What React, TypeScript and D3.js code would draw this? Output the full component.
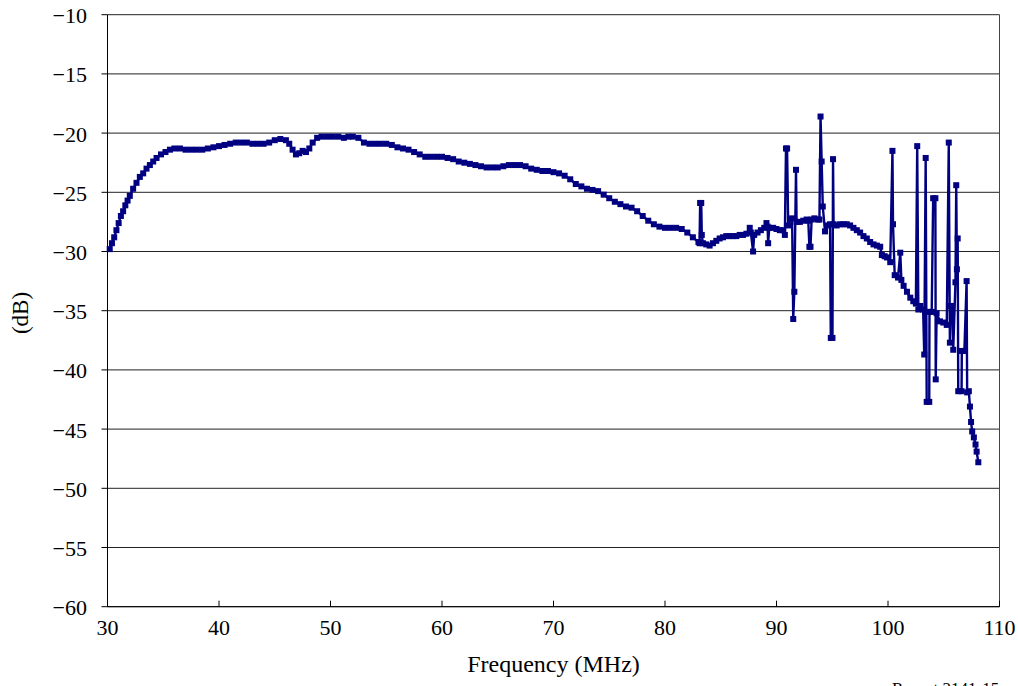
import React from 'react';
import * as d3 from 'd3';

// axis ticks
const X_TICKS = [30, 40, 50, 60, 70, 80, 90, 100, 110];
const Y_TICKS = [-10, -15, -20, -25, -30, -35, -40, -45, -50, -55, -60];

// [frequency MHz, level dB]
const passband: [number, number][] = [
  [30.2, -29.8], [30.4, -29.3], [30.6, -28.8], [30.8, -28.2], [31.0, -27.6],
  [31.2, -27.0], [31.4, -26.6], [31.6, -26.1], [31.8, -25.7], [32.0, -25.3],
  [32.3, -24.7], [32.6, -24.2], [32.9, -23.7], [33.2, -23.4], [33.5, -23.0],
  [33.8, -22.7], [34.1, -22.4], [34.4, -22.1], [34.8, -21.8], [35.2, -21.6],
  [35.6, -21.4], [36.0, -21.3], [36.5, -21.3], [37.0, -21.4], [37.5, -21.4],
  [38.0, -21.4], [38.5, -21.4], [39.0, -21.3], [39.5, -21.2], [40.0, -21.1],
  [40.5, -21.0], [41.0, -20.9], [41.5, -20.8], [42.0, -20.8], [42.5, -20.8],
  [43.0, -20.9], [43.5, -20.9], [44.0, -20.9], [44.5, -20.8], [45.0, -20.6],
  [45.5, -20.5], [46.0, -20.6], [46.3, -20.9], [46.6, -21.4], [46.9, -21.8],
  [47.2, -21.7], [47.5, -21.5], [47.8, -21.6], [48.1, -21.3], [48.4, -20.8],
  [48.8, -20.4], [49.2, -20.3], [49.7, -20.3], [50.2, -20.3], [50.7, -20.3],
  [51.2, -20.4], [51.6, -20.3], [52.0, -20.3], [52.5, -20.4], [53.0, -20.8],
  [53.5, -20.9], [54.0, -20.9], [54.5, -20.9], [55.0, -20.9], [55.5, -21.0],
  [56.0, -21.2], [56.5, -21.3], [57.0, -21.4], [57.5, -21.6], [58.0, -21.8],
  [58.5, -22.0], [59.0, -22.0], [59.5, -22.0], [60.0, -22.0], [60.5, -22.1],
  [61.0, -22.2], [61.5, -22.4], [62.0, -22.5], [62.5, -22.6], [63.0, -22.7],
  [63.5, -22.8], [64.0, -22.9], [64.5, -22.9], [65.0, -22.9], [65.5, -22.8],
  [66.0, -22.7], [66.5, -22.7], [67.0, -22.7], [67.5, -22.8], [68.0, -23.0],
  [68.5, -23.1], [69.0, -23.2], [69.5, -23.2], [70.0, -23.3], [70.5, -23.4],
  [71.0, -23.6], [71.5, -23.9], [72.0, -24.3], [72.5, -24.5], [73.0, -24.7],
  [73.5, -24.8], [74.0, -24.9], [74.5, -25.2], [75.0, -25.5], [75.5, -25.8],
  [76.0, -26.0], [76.5, -26.2], [77.0, -26.3], [77.5, -26.6], [78.0, -27.0],
  [78.5, -27.4], [79.0, -27.7], [79.5, -27.9], [80.0, -28.0], [80.5, -28.0],
  [81.0, -28.0], [81.5, -28.1], [82.0, -28.4], [82.5, -28.8],
];

const spurRegion: [number, number][] = [
  [83.0, -29.2], [83.1, -29.3], [83.15, -25.9], [83.25, -25.9], [83.3, -28.6],
  [83.4, -29.3], [83.7, -29.4], [84.0, -29.5], [84.3, -29.3], [84.6, -29.1],
  [84.9, -28.9], [85.2, -28.8], [85.5, -28.7], [85.8, -28.7], [86.1, -28.7],
  [86.4, -28.7], [86.7, -28.6], [87.0, -28.6], [87.3, -28.5], [87.6, -28.0],
  [87.7, -28.4], [87.9, -30.0], [88.0, -28.6], [88.3, -28.4], [88.6, -28.2],
  [88.9, -28.0], [89.1, -27.6], [89.2, -27.9], [89.25, -29.3], [89.35, -28.0],
  [89.7, -28.0], [90.0, -28.1], [90.3, -28.2], [90.6, -28.2], [90.75, -28.6],
  [90.85, -21.3], [90.95, -21.3], [91.05, -27.8], [91.2, -27.3], [91.4, -27.2],
  [91.5, -35.7], [91.6, -33.4], [91.75, -23.1], [91.8, -27.5], [92.1, -27.5],
  [92.4, -27.4], [92.7, -27.3], [92.85, -27.4], [92.95, -29.6], [93.05, -29.6],
  [93.15, -27.3], [93.4, -27.2], [93.7, -27.3], [93.85, -27.3], [93.95, -18.6],
  [94.05, -22.4], [94.15, -26.2], [94.35, -28.3], [94.6, -27.8], [94.8, -27.7],
  [94.87, -37.3], [95.02, -37.3], [95.07, -22.2], [95.12, -27.7], [95.4, -27.8],
  [95.7, -27.7], [96.0, -27.7], [96.3, -27.7], [96.6, -27.8], [96.9, -28.0],
  [97.2, -28.2], [97.5, -28.4], [97.8, -28.7], [98.1, -28.9], [98.4, -29.2],
  [98.7, -29.4], [99.0, -29.5], [99.3, -29.6], [99.45, -30.3], [99.7, -30.4],
  [99.9, -30.5], [100.2, -30.9], [100.4, -21.5], [100.45, -27.7], [100.6, -32.0],
  [100.9, -32.2], [101.1, -30.1], [101.2, -32.4], [101.4, -32.9], [101.7, -33.4],
  [102.0, -33.9], [102.27, -34.2], [102.5, -34.4], [102.62, -21.1], [102.72, -34.9],
  [102.9, -34.6], [103.15, -34.9], [103.25, -38.7], [103.38, -22.1], [103.47, -42.7],
  [103.7, -42.7], [103.72, -35.1], [103.92, -35.1], [104.05, -25.5], [104.25, -25.5],
  [104.28, -40.8], [104.36, -35.2], [104.66, -35.9], [104.96, -36.0], [105.27, -36.2],
  [105.45, -20.8], [105.55, -37.7], [105.6, -34.6], [105.75, -34.6], [105.85, -38.3],
  [106.05, -32.6], [106.12, -24.4], [106.18, -31.5], [106.25, -28.9], [106.3, -41.8],
  [106.6, -41.8], [106.62, -38.4], [106.85, -38.4], [107.05, -32.5], [107.1, -41.9],
  [107.25, -41.8], [107.35, -43.1], [107.45, -44.4], [107.55, -45.2], [107.7, -45.7],
  [107.85, -46.3], [107.95, -46.9], [108.1, -47.8],
];

const WIDTH = 1018;
const HEIGHT = 686;
const LEFT = 107.5;
const RIGHT = 999.5;
const TOP = 14.7;
const BOTTOM = 606.7;
const NAVY = '#000080';
const FONT = '"Liberation Serif", "Times New Roman", serif';

const fmt = (v: number) => (v < 0 ? `\u2212${Math.abs(v)}` : `${v}`);

const App = () => {
  const xScale = d3.scaleLinear().domain([30, 110]).range([LEFT, RIGHT]);
  const yScale = d3.scaleLinear().domain([-60, -10]).range([BOTTOM, TOP]);

  const data = [...passband, ...spurRegion];
  const line = d3.line<[number, number]>()
    .x(d => xScale(d[0]))
    .y(d => yScale(d[1]));

  return (
    <svg
      width={WIDTH}
      height={HEIGHT}
      style={{ position: 'absolute', left: 0, top: 0, background: '#fff' }}
      fontFamily={FONT}
    >
      {/* horizontal grid */}
      {Y_TICKS.map(t => (
        <line key={t} x1={LEFT} x2={RIGHT} y1={yScale(t)} y2={yScale(t)} stroke="#222" strokeWidth={1} />
      ))}
      {/* frame */}
      <line x1={RIGHT} x2={RIGHT} y1={TOP} y2={BOTTOM} stroke="#444" strokeWidth={1} />
      <line x1={LEFT} x2={LEFT} y1={TOP} y2={BOTTOM} stroke="#000" strokeWidth={1} />
      <line x1={LEFT} x2={RIGHT} y1={BOTTOM} y2={BOTTOM} stroke="#000" strokeWidth={1} />

      {/* y ticks */}
      {Y_TICKS.map(t => (
        <g key={t}>
          <line x1={LEFT - 6} x2={LEFT} y1={yScale(t)} y2={yScale(t)} stroke="#000" />
          <text x={87} y={yScale(t) + 1} textAnchor="end" dominantBaseline="central" fontSize={22}>
            {fmt(t)}
          </text>
        </g>
      ))}
      {/* x ticks */}
      {X_TICKS.map(t => (
        <g key={t}>
          <line x1={xScale(t)} x2={xScale(t)} y1={BOTTOM - 6} y2={BOTTOM} stroke="#000" />
          <text x={xScale(t)} y={635} textAnchor="middle" fontSize={22}>
            {fmt(t)}
          </text>
        </g>
      ))}

      {/* series */}
      <path d={line(data) ?? ''} fill="none" stroke={NAVY} strokeWidth={2.4} strokeLinejoin="round" />
      {data.map((d, i) => (
        <rect
          key={i}
          x={xScale(d[0]) - 3}
          y={yScale(d[1]) - 3}
          width={6}
          height={6}
          fill={NAVY}
        />
      ))}

      {/* titles */}
      <text
        transform="translate(28,313) rotate(-90)"
        textAnchor="middle"
        fontSize={23}
      >
        (dB)
      </text>
      <text x={(LEFT + RIGHT) / 2} y={672} textAnchor="middle" fontSize={24}>
        Frequency (MHz)
      </text>
      <text x={892} y={694} fontSize={17}>
        Report 2141-15
      </text>
    </svg>
  );
};

export default App;
